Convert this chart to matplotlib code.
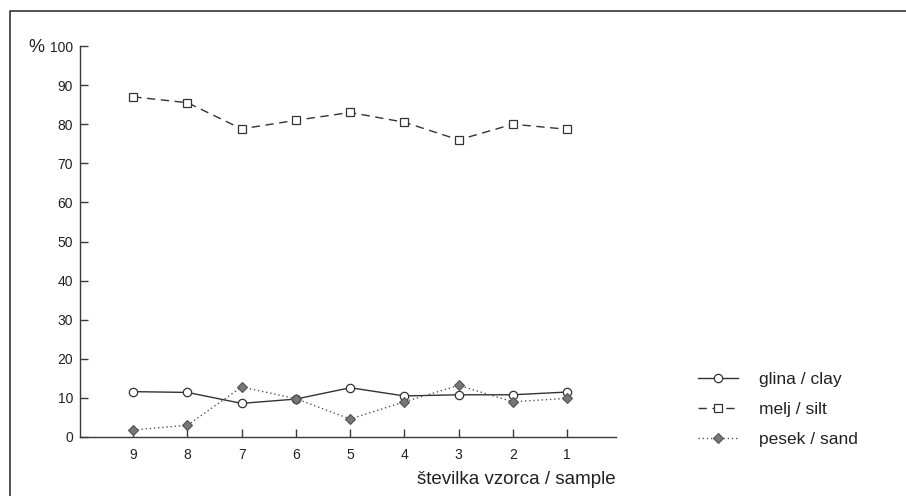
import matplotlib
matplotlib.use("Agg")
import matplotlib.pyplot as plt
from matplotlib.lines import Line2D

plt.rcParams['font.family'] = ['Liberation Sans', 'DejaVu Sans']

samples = ['9', '8', '7', '6', '5', '4', '3', '2', '1']
clay = [11.6, 11.4, 8.6, 9.7, 12.6, 10.5, 10.8, 10.8, 11.5]
silt = [87.0, 85.5, 78.8, 81.0, 83.0, 80.5, 76.0, 80.0, 78.7]
sand = [1.8, 3.0, 12.8, 9.8, 4.6, 9.0, 13.2, 9.0, 9.9]
labels = ['glina / clay', 'melj / silt', 'pesek / sand']
yticks = [0, 10, 20, 30, 40, 50, 60, 70, 80, 90, 100]

W, H = 906, 496
fig = plt.figure(figsize=(W / 100, H / 100), dpi=100)
ax = fig.add_axes([80 / W, 1 - 437 / H, (616 - 80) / W, (437 - 46) / H])

x = list(range(1, len(samples) + 1))
axc = '#3a3a3a'
ax.plot(x, clay, '-', color='#333333', lw=1.0, marker='o', ms=6,
        mfc='white', mec='#333333', mew=0.9, label=labels[0])
ax.plot(x, silt, color='#333333', lw=1.0, ls=(0, (6, 4)), marker='s', ms=5.5,
        mfc='white', mec='#333333', mew=0.9, label=labels[1])
ax.plot(x, sand, color='#555555', lw=1.0, ls=(0, (1, 2)), marker='D', ms=5.5,
        mfc='#777777', mec='#555555', mew=0.8, label=labels[2])

ax.set_xlim(0.02, 9.9)
ax.set_ylim(0, 100)
ax.set_xticks(x)
ax.set_xticklabels(samples)
ax.set_yticks(yticks)
ax.set_yticklabels([str(v) for v in yticks])
for s in ['top', 'right']:
    ax.spines[s].set_visible(False)
for s in ['left', 'bottom']:
    ax.spines[s].set_color(axc)
    ax.spines[s].set_linewidth(1.0)
ax.tick_params(axis='both', direction='in', length=6, width=1.0, color=axc,
               labelsize=10, labelcolor='#222222')
ax.tick_params(axis='x', pad=8)
ax.tick_params(axis='y', pad=5)

ax.set_xlabel('številka vzorca / sample', fontsize=13.5, color='#222222',
              ha='right', va='center')
ax.xaxis.set_label_coords(1.0, -(480 - 437) / (437 - 46))
fig.text(28 / W, 1 - 47 / H, '%', fontsize=13, color='#222222', va='center', ha='left')

leg = fig.legend(loc='upper left', bbox_to_anchor=(689 / W, 1 - 363 / H),
                 frameon=False, fontsize=12.5, handlelength=2.3,
                 handletextpad=1.25, labelspacing=0.85, borderpad=0)
for t in leg.get_texts():
    t.set_color('#222222')

# figure frame (left and top lines)
fig.add_artist(Line2D([9.5 / W, 9.5 / W, 1.0], [0, 1 - 11 / H, 1 - 11 / H],
                      transform=fig.transFigure, color='#333333', lw=1.2))

fig.savefig('out.png', dpi=100)
